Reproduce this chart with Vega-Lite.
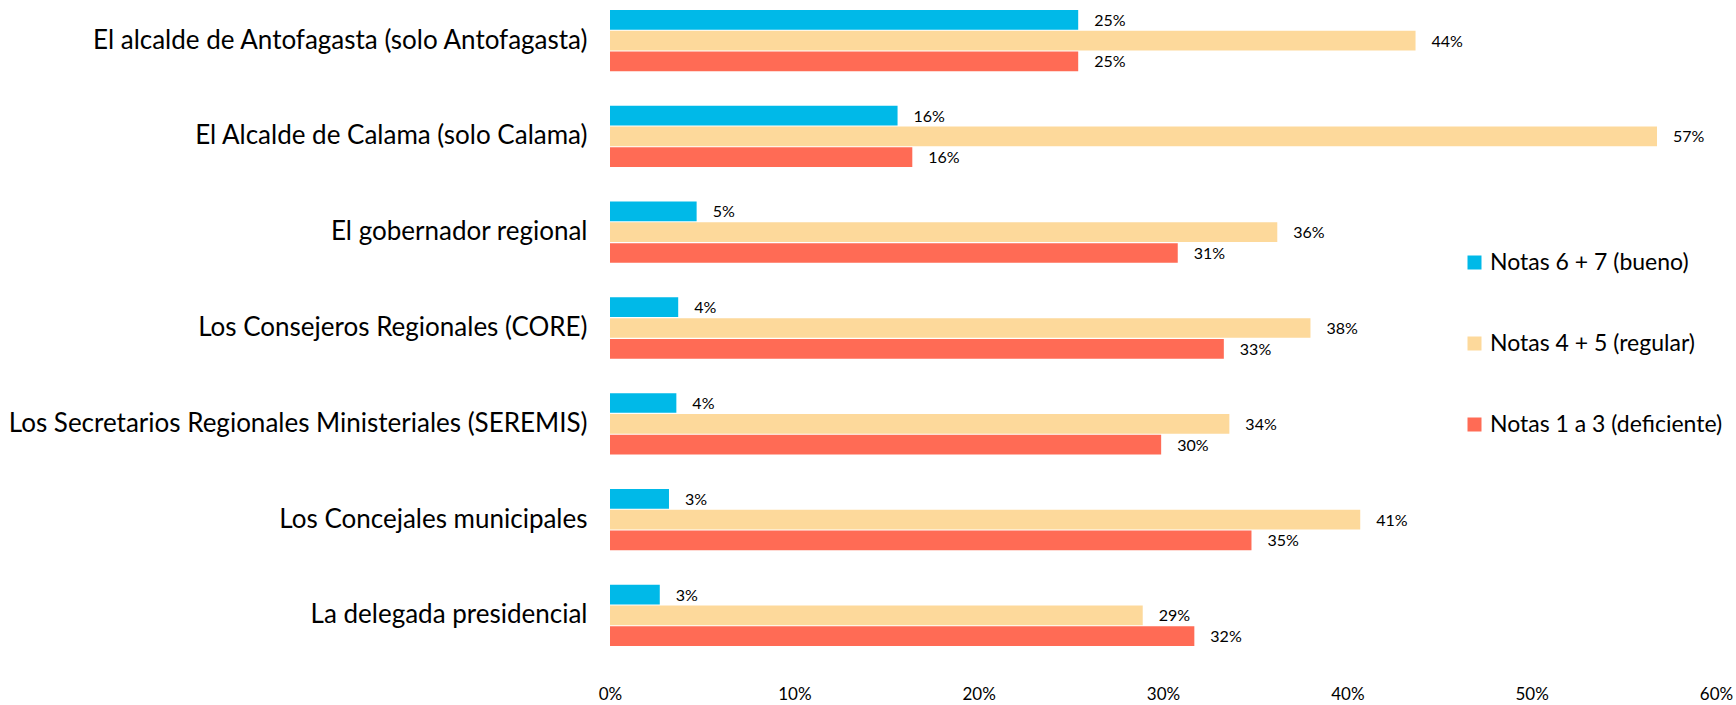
{
  "$schema": "https://vega.github.io/schema/vega-lite/v6.json",
  "autosize": {"type": "none"},
  "padding": {"left": 610, "top": 10, "right": 20, "bottom": 59},
  "width": 1106,
  "height": 636,
  "background": "white",
  "config": {"font": "Lato", "view": {"stroke": null}},
  "data": {"values": [
    {"item": "El alcalde de Antofagasta (solo Antofagasta)", "serie": "Notas 6 + 7 (bueno)", "v": 0.254},
    {"item": "El alcalde de Antofagasta (solo Antofagasta)", "serie": "Notas 4 + 5 (regular)", "v": 0.437},
    {"item": "El alcalde de Antofagasta (solo Antofagasta)", "serie": "Notas 1 a 3 (deficiente)", "v": 0.254},
    {"item": "El Alcalde de Calama (solo Calama)", "serie": "Notas 6 + 7 (bueno)", "v": 0.156},
    {"item": "El Alcalde de Calama (solo Calama)", "serie": "Notas 4 + 5 (regular)", "v": 0.568},
    {"item": "El Alcalde de Calama (solo Calama)", "serie": "Notas 1 a 3 (deficiente)", "v": 0.164},
    {"item": "El gobernador regional", "serie": "Notas 6 + 7 (bueno)", "v": 0.047},
    {"item": "El gobernador regional", "serie": "Notas 4 + 5 (regular)", "v": 0.362},
    {"item": "El gobernador regional", "serie": "Notas 1 a 3 (deficiente)", "v": 0.308},
    {"item": "Los Consejeros Regionales (CORE)", "serie": "Notas 6 + 7 (bueno)", "v": 0.037},
    {"item": "Los Consejeros Regionales (CORE)", "serie": "Notas 4 + 5 (regular)", "v": 0.380},
    {"item": "Los Consejeros Regionales (CORE)", "serie": "Notas 1 a 3 (deficiente)", "v": 0.333},
    {"item": "Los Secretarios Regionales Ministeriales (SEREMIS)", "serie": "Notas 6 + 7 (bueno)", "v": 0.036},
    {"item": "Los Secretarios Regionales Ministeriales (SEREMIS)", "serie": "Notas 4 + 5 (regular)", "v": 0.336},
    {"item": "Los Secretarios Regionales Ministeriales (SEREMIS)", "serie": "Notas 1 a 3 (deficiente)", "v": 0.299},
    {"item": "Los Concejales municipales", "serie": "Notas 6 + 7 (bueno)", "v": 0.032},
    {"item": "Los Concejales municipales", "serie": "Notas 4 + 5 (regular)", "v": 0.407},
    {"item": "Los Concejales municipales", "serie": "Notas 1 a 3 (deficiente)", "v": 0.348},
    {"item": "La delegada presidencial", "serie": "Notas 6 + 7 (bueno)", "v": 0.027},
    {"item": "La delegada presidencial", "serie": "Notas 4 + 5 (regular)", "v": 0.289},
    {"item": "La delegada presidencial", "serie": "Notas 1 a 3 (deficiente)", "v": 0.317}
  ]},
  "encoding": {
    "y": {"field": "item", "type": "nominal", "sort": null,
      "scale": {"paddingInner": 0.36, "paddingOuter": 0},
      "axis": {"title": null, "domain": false, "ticks": false, "labelPadding": 23, "labelFontSize": 26, "labelColor": "#000000", "labelLimit": 800}},
    "yOffset": {"field": "serie", "type": "nominal", "sort": ["Notas 6 + 7 (bueno)", "Notas 4 + 5 (regular)", "Notas 1 a 3 (deficiente)"],
      "scale": {"paddingInner": 0.05, "paddingOuter": 0}},
    "x": {"field": "v", "type": "quantitative", "scale": {"domain": [0, 0.6], "nice": false},
      "axis": {"title": null, "format": ".0%", "values": [0, 0.1, 0.2, 0.3, 0.4, 0.5, 0.6], "grid": false, "domain": false, "ticks": false, "labelFlush": false, "labelPadding": 40, "labelFontSize": 17, "labelColor": "#000000"}}
  },
  "layer": [
    {"mark": {"type": "bar"},
     "encoding": {"color": {"field": "serie", "type": "nominal",
        "scale": {"domain": ["Notas 6 + 7 (bueno)", "Notas 4 + 5 (regular)", "Notas 1 a 3 (deficiente)"], "range": ["#00B9E8", "#FDD99B", "#FF6B55"]},
        "legend": {"title": null, "orient": "none", "legendX": 853, "legendY": 241, "padding": 0, "symbolType": "square", "symbolSize": 196, "symbolStrokeWidth": 0, "labelFontSize": 23, "labelColor": "#000000", "labelOffset": 4, "rowPadding": 57, "labelLimit": 400}}}},
    {"mark": {"type": "text", "align": "left", "baseline": "middle", "dx": 16, "dy": 1, "fontSize": 16, "color": "#000000"},
     "encoding": {"text": {"field": "v", "type": "quantitative", "format": ".0%"}}}
  ]
}
